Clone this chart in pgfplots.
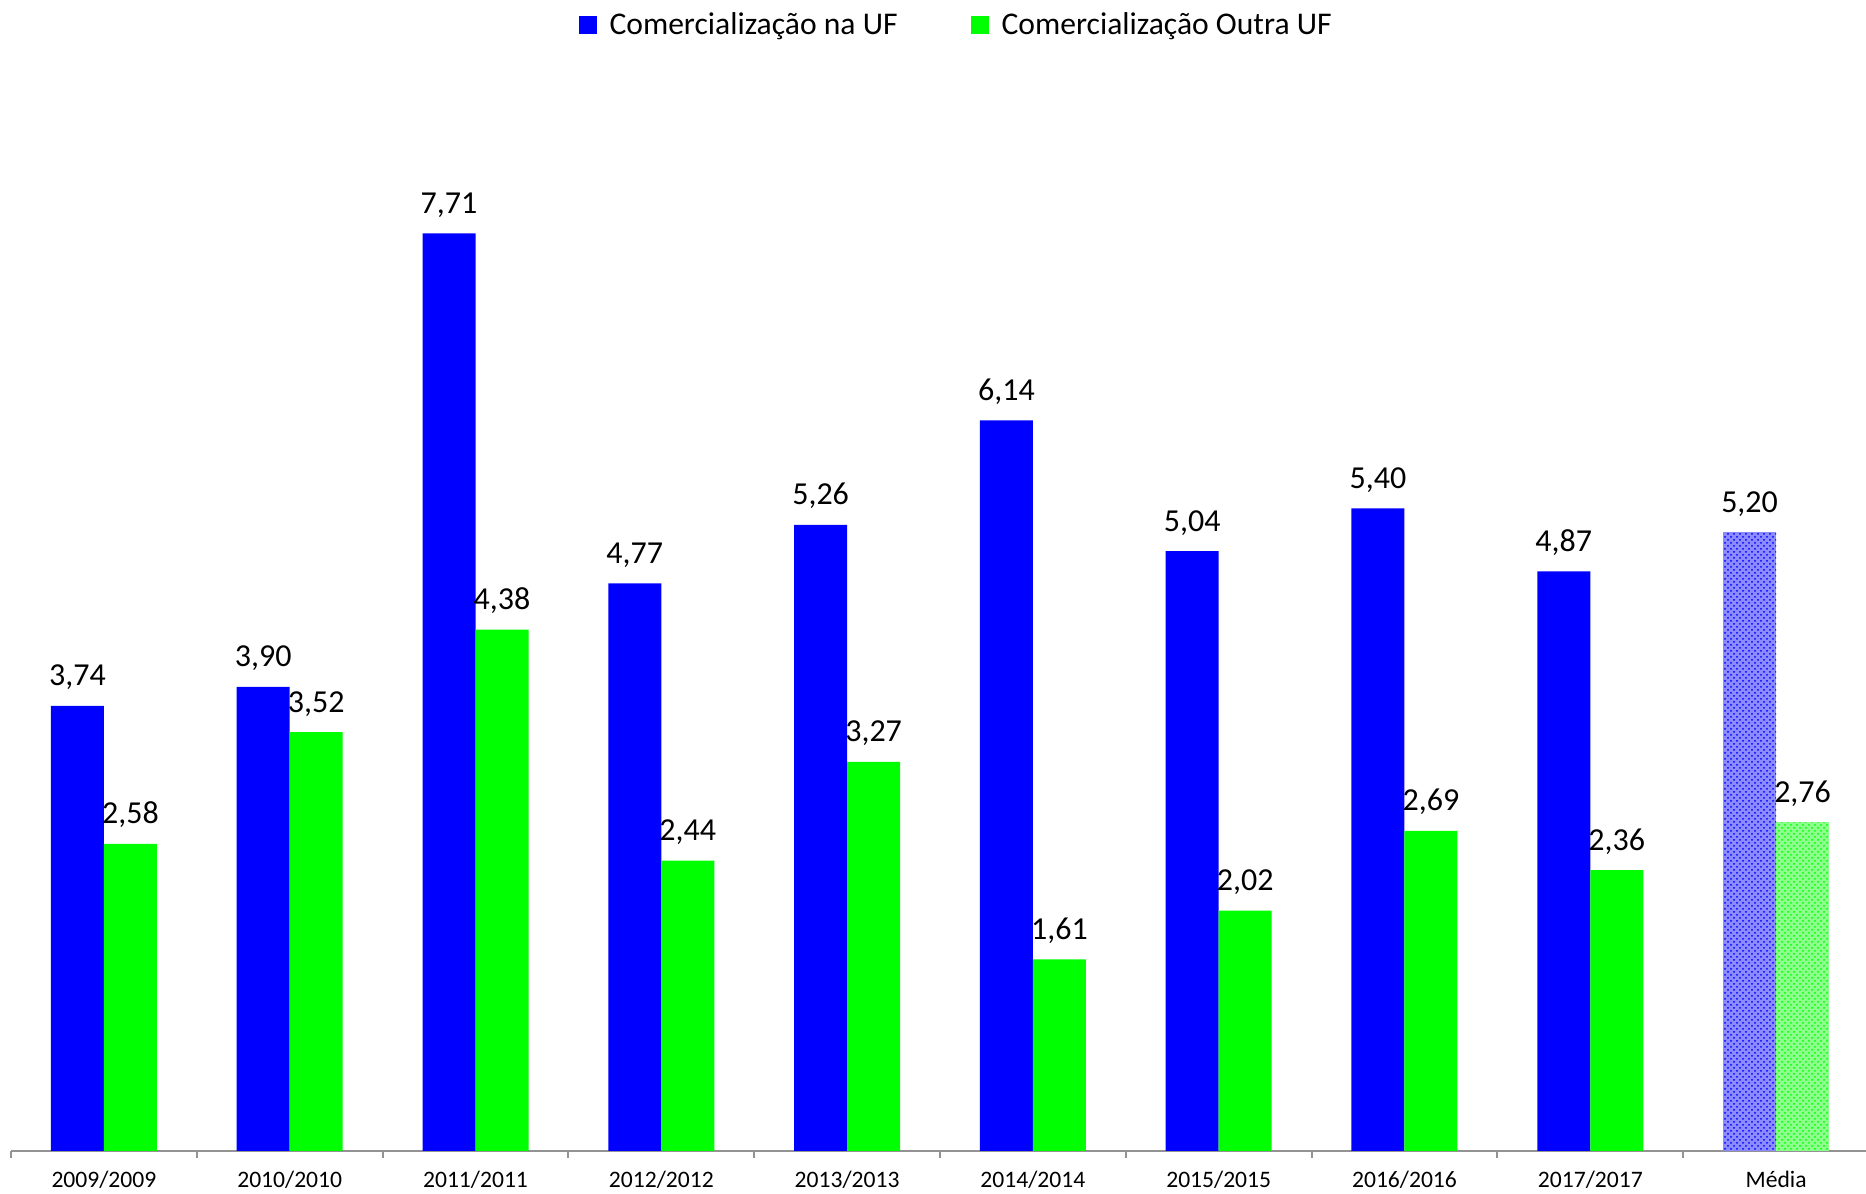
\documentclass[border=0pt]{standalone}
\usepackage{fontspec}
\setmainfont{Carlito}
\usepackage{pgfplots}
\pgfplotsset{compat=1.18}
\usetikzlibrary{patterns}
\definecolor{cblue}{RGB}{0,0,255}
\definecolor{cgreen}{RGB}{0,255,0}
\pgfplotsset{
  lbl/.style={font=\fontsize{16pt}{19pt}\selectfont, anchor=base, inner sep=0pt, yshift=10pt, text=black, xshift=#1},
}
\begin{document}
\begin{tikzpicture}
\begin{axis}[
  scale only axis, width=927.5pt, height=547.4pt,
  xmin=-0.5, xmax=9.484, ymin=0, ymax=9.2,
  hide y axis,
  axis x line*=bottom,
  x axis line style={draw=gray!85, line width=1pt, -},
  xtick={0,...,9},
  xticklabels={2009/2009,2010/2010,2011/2011,2012/2012,2013/2013,2014/2014,2015/2015,2016/2016,2017/2017,Média},
  major tick length=0pt,
  xticklabel style={font=\fontsize{11.8pt}{14pt}\selectfont, anchor=base, inner sep=0pt, yshift=-18.5pt},
  extra x ticks={-0.5,0.5,...,8.5},
  extra x tick labels={},
  extra x tick style={major tick length=3.5pt, tick align=outside, tick style={draw=gray!85, line width=1pt}},
  clip=false,
  /pgf/number format/.cd, fixed, fixed zerofill, precision=2, use comma, assume math mode=true,
  /pgfplots/.cd,
  legend style={at={(0.51,1.0285)}, anchor=center, draw=none, fill=none, inner sep=0pt,
    font=\fontsize{15.8pt}{18pt}\selectfont,
    /tikz/every even column/.append style={column sep=34.5pt}},
  legend columns=2,
  legend cell align=left,
]
\addplot[ybar, bar width=26.5pt, bar shift=-13.25pt, fill=cblue, draw=none,
  legend image code/.code={\fill[cblue] (0pt,-4.5pt) rectangle (9pt,4.5pt); \path (13.5pt,0pt);},
  nodes near coords,
  every node near coord/.append style={/pgfplots/lbl=-13.25pt}]
  coordinates {(0,3.74) (1,3.90) (2,7.71) (3,4.77) (4,5.26) (5,6.14) (6,5.04) (7,5.40) (8,4.87)};
\addlegendentry{Comercialização na UF}
\addplot[ybar, bar width=26.5pt, bar shift=13.25pt, fill=cgreen, draw=none,
  legend image code/.code={\fill[cgreen] (0pt,-4.5pt) rectangle (9pt,4.5pt); \path (13.5pt,0pt);},
  nodes near coords,
  every node near coord/.append style={/pgfplots/lbl=13.25pt}]
  coordinates {(0,2.58) (1,3.52) (2,4.38) (3,2.44) (4,3.27) (5,1.61) (6,2.02) (7,2.69) (8,2.36)};
\addlegendentry{Comercialização Outra UF}
\addplot[ybar, bar width=26.5pt, bar shift=-13.25pt, fill=cblue!45, draw=none, forget plot,
  postaction={pattern=crosshatch dots, pattern color=cblue},
  nodes near coords,
  every node near coord/.append style={/pgfplots/lbl=-13.25pt}]
  coordinates {(9,5.20)};
\addplot[ybar, bar width=26.5pt, bar shift=13.25pt, fill=cgreen!45, draw=none, forget plot,
  postaction={pattern=crosshatch dots, pattern color=cgreen},
  nodes near coords,
  every node near coord/.append style={/pgfplots/lbl=13.25pt}]
  coordinates {(9,2.76)};
\coordinate (bbsw) at (rel axis cs:-0.00593,-0.0393);
\coordinate (bbne) at (rel axis cs:1.0,1.0513);
\end{axis}
\pgfresetboundingbox
\path[use as bounding box] (bbsw) rectangle (bbne);
\end{tikzpicture}
\end{document}
